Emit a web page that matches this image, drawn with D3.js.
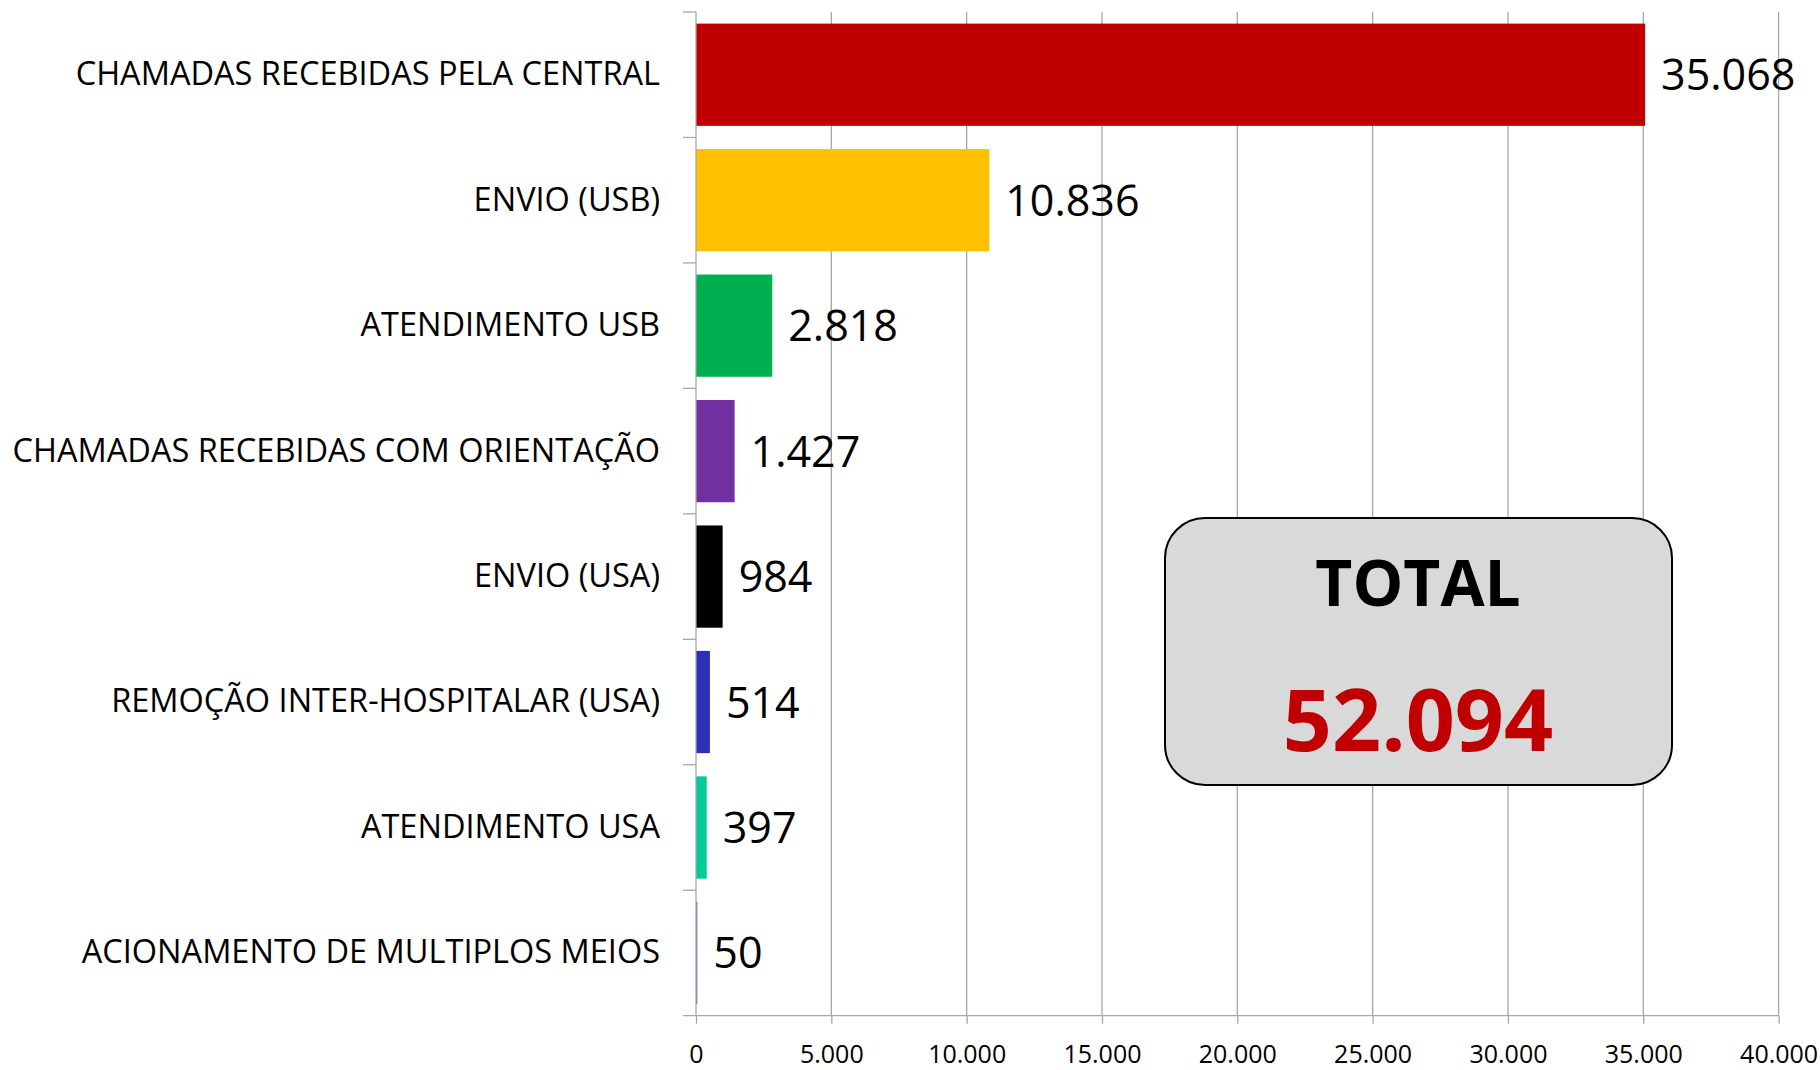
<!DOCTYPE html>
<html>
<head>
<meta charset="utf-8">
<script src="https://cdn.jsdelivr.net/npm/d3@7/dist/d3.min.js"></script>
<style>
  html, body { margin: 0; padding: 0; background: #ffffff; }
  svg { display: block; }
  text { font-family: "Open Sans", "Noto Sans", sans-serif; }
</style>
</head>
<body>
<svg id="chart" width="1820" height="1070"></svg>
<script>
const categories = [
  "CHAMADAS RECEBIDAS PELA CENTRAL",
  "ENVIO (USB)",
  "ATENDIMENTO USB",
  "CHAMADAS RECEBIDAS COM ORIENTAÇÃO",
  "ENVIO (USA)",
  "REMOÇÃO INTER-HOSPITALAR (USA)",
  "ATENDIMENTO USA",
  "ACIONAMENTO DE MULTIPLOS MEIOS"
];
const values = [35068, 10836, 2818, 1427, 984, 514, 397, 50];
const colors = ["#c00000", "#ffc000", "#00b050", "#7030a0", "#000000", "#2e2eb8", "#00cc99", "#4472c4"];
const xTicks = [0, 5000, 10000, 15000, 20000, 25000, 30000, 35000, 40000];
const totalLabel = "TOTAL";

const locale = d3.formatLocale({ decimal: ",", thousands: ".", grouping: [3], currency: ["", ""] });
const fmt = locale.format(",d");

const svg = d3.select("#chart");
const mLeft = 696, mRight = 1778.6, mTop = 12, mBottom = 1015.7;
const gridColor = "#a6a6a6";

const x = d3.scaleLinear().domain([0, 40000]).range([mLeft, mRight]);
const y = d3.scaleBand().domain(categories).range([mTop, mBottom]).paddingInner(0.185).paddingOuter(0.0925);

// gridlines
svg.append("g").selectAll("line").data(xTicks.slice(1)).join("line")
  .attr("x1", d => x(d)).attr("x2", d => x(d))
  .attr("y1", mTop).attr("y2", mBottom)
  .attr("stroke", gridColor).attr("stroke-width", 1.3);

// bars
svg.append("g").selectAll("rect").data(values).join("rect")
  .attr("x", x(0))
  .attr("y", (d, i) => y(categories[i]))
  .attr("width", d => x(d) - x(0))
  .attr("height", y.bandwidth())
  .attr("fill", (d, i) => colors[i]);

// value labels
svg.append("g").selectAll("text").data(values).join("text")
  .attr("x", d => x(d) + 16)
  .attr("y", (d, i) => y(categories[i]) + y.bandwidth() / 2)
  .attr("dy", "0.36em")
  .attr("font-size", 43)
  .attr("fill", "#000")
  .text(d => fmt(d));

// x axis
const xAxis = d3.axisBottom(x).tickValues(xTicks).tickFormat(fmt).tickSize(8).tickSizeOuter(0).tickPadding(22);
const gx = svg.append("g").attr("transform", `translate(0,${mBottom})`).call(xAxis);
gx.select(".domain").remove();
gx.selectAll(".tick line").attr("stroke", gridColor).attr("stroke-width", 1.3);
gx.selectAll(".tick text").attr("font-size", 25).attr("fill", "#000").attr("font-family", "Open Sans");
svg.append("line").attr("x1", 683).attr("x2", mRight).attr("y1", mBottom).attr("y2", mBottom)
  .attr("stroke", gridColor).attr("stroke-width", 1.3);

// y axis line
svg.append("line").attr("x1", mLeft).attr("x2", mLeft).attr("y1", mTop).attr("y2", mBottom)
  .attr("stroke", gridColor).attr("stroke-width", 1.3);

// category boundary ticks
const step = y.step();
const bounds = d3.range(categories.length).map(i => y(categories[i]) - y.paddingInner() * step / 2);
svg.append("g").selectAll("line").data(bounds).join("line")
  .attr("x1", 683).attr("x2", mLeft)
  .attr("y1", d => d).attr("y2", d => d)
  .attr("stroke", gridColor).attr("stroke-width", 1.3);

// category labels
const yAxis = d3.axisLeft(y).tickSize(0).tickPadding(36);
const gy = svg.append("g").attr("transform", `translate(${mLeft},0)`).call(yAxis);
gy.select(".domain").remove();
gy.selectAll(".tick text").attr("font-size", 32.5).attr("fill", "#000").attr("font-family", "Open Sans");

// total box
const box = svg.append("g");
box.append("rect").attr("x", 1165).attr("y", 518).attr("width", 507).attr("height", 267)
  .attr("rx", 40).attr("ry", 40)
  .attr("fill", "#d9d9d9").attr("stroke", "#000").attr("stroke-width", 2);
box.append("text").attr("x", 1418).attr("y", 606).attr("text-anchor", "middle")
  .attr("font-size", 64).attr("font-weight", 700).attr("fill", "#000")
  .text(totalLabel);
box.append("text").attr("x", 1418).attr("y", 751).attr("text-anchor", "middle")
  .attr("font-size", 86).attr("font-weight", 700).attr("fill", "#c00000")
  .text(fmt(d3.sum(values)));
</script>
</body>
</html>
